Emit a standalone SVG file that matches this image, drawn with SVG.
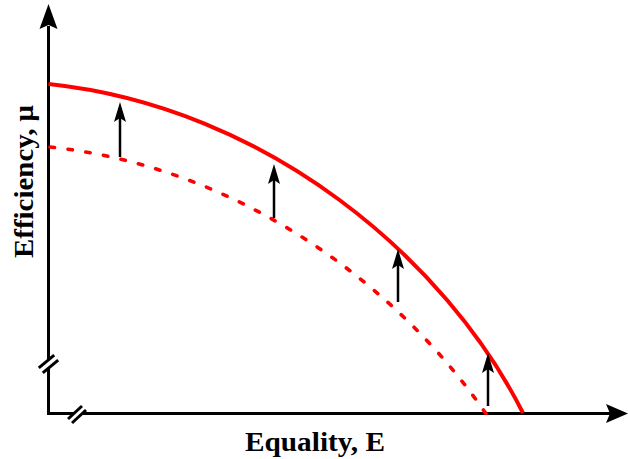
<svg xmlns="http://www.w3.org/2000/svg" width="628" height="459" viewBox="0 0 628 459">
<style>
.axis{stroke:#000;stroke-width:3;fill:none}
.slash{stroke:#000;stroke-width:3;fill:none}
.curve{stroke:#ff0000;stroke-width:4;fill:none}
.dashed{stroke:#ff0000;stroke-width:3.6;fill:none;stroke-dasharray:4.5 13.5;stroke-linecap:round}
.shift{stroke:#000;stroke-width:2.5;fill:none;marker-end:url(#ah)}
.lbl{font-family:"Liberation Serif","Times New Roman",serif;font-weight:bold;font-size:27px;fill:#000}
</style>
<defs>
<marker id="ah" viewBox="0 0 20 12" refX="4" refY="6" markerWidth="20" markerHeight="12" markerUnits="userSpaceOnUse" orient="auto">
<path d="M0,0 L20,6 L0,12 L4,6 z" fill="#000"/>
</marker>
<clipPath id="clipAxis"><rect x="0" y="0" width="628" height="415"/></clipPath>
</defs>
<g id="axes">
<line class="axis" x1="48.5" y1="415" x2="48.5" y2="26"/>
<polygon points="48.5,4 39.5,29 48.5,25 57.5,29" fill="#000"/>
<line class="axis" x1="47" y1="413.5" x2="612" y2="413.5"/>
<polygon points="628,413.5 606,404 610,413.5 606,423" fill="#000"/>
</g>
<g id="y-break">
<polygon points="38.8,367.9 54.2,355.1 58.2,360.1 42.8,372.9" fill="#fff"/>
<line class="slash" x1="38.8" y1="367.9" x2="54.2" y2="355.1"/>
<line class="slash" x1="42.8" y1="372.9" x2="58.2" y2="360.1"/>
</g>
<g id="x-break">
<polygon points="68,419 82,406 86,410 72,423" fill="#fff"/>
<line class="slash" x1="68" y1="419" x2="82" y2="406"/>
<line class="slash" x1="72" y1="423" x2="86" y2="410"/>
</g>
<g id="frontier">
<path class="curve" d="M48.5,84 C268,107 446,260 523,413"/>
</g>
<g id="old-frontier" clip-path="url(#clipAxis)">
<path class="dashed" d="M50,147 C268,170 446,323 523,476"/>
</g>
<g id="connectors">
<path class="shift" d="M120,157 V118"/>
<path class="shift" d="M274,218 V180"/>
<path class="shift" d="M398,302 V265"/>
<path class="shift" d="M488,406 V369"/>
</g>
<g id="x-label">
<text class="lbl" x="315" y="450.5" text-anchor="middle" textLength="140" lengthAdjust="spacingAndGlyphs">Equality, E</text>
</g>
<g id="y-label">
<text class="lbl" transform="translate(33,181.5) rotate(-90)" x="0" y="0" text-anchor="middle" textLength="153" lengthAdjust="spacingAndGlyphs">Efficiency, μ</text>
</g>
</svg>
